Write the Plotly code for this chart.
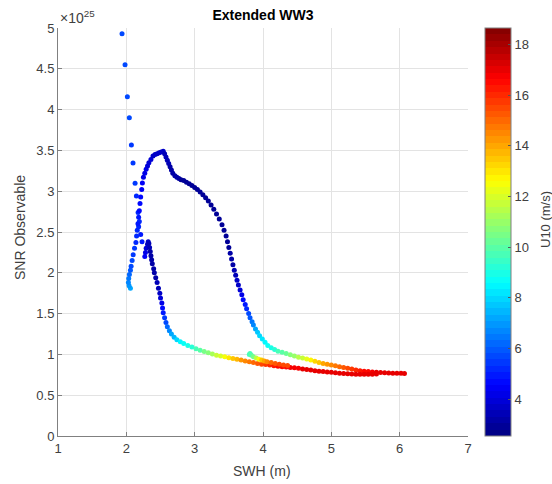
import plotly.graph_objects as go

# ---------------- data (SNR in units of 1e25) ----------------
# isolated dots falling from top
fall_swh = [1.937, 1.981, 2.015, 2.044, 2.074, 2.098, 2.128, 2.147, 2.172, 2.19, 2.18, 2.21, 2.23]
fall_snr = [4.93, 4.55, 4.157, 3.90, 3.567, 3.347, 3.097, 2.94, 2.74, 2.63, 2.565, 2.47, 2.38]
fall_u10 = [5.6, 5.6, 5.6, 5.6, 5.5, 5.5, 5.4, 5.3, 5.2, 5.1, 5.1, 5.0, 5.0]

# rising branch, big hump, long descending tail
hump_swh = [2.06, 2.04, 2.03, 2.035, 2.045, 2.06, 2.07, 2.085, 2.10, 2.12, 2.14, 2.15, 2.16, 2.17,
            2.18, 2.19, 2.20, 2.21, 2.225, 2.235, 2.25, 2.27, 2.29, 2.31, 2.33, 2.36, 2.39, 2.42,
            2.45, 2.48, 2.51, 2.54, 2.56, 2.58, 2.60, 2.62, 2.64, 2.66, 2.68, 2.71, 2.74, 2.77,
            2.80, 2.84, 2.88, 2.92, 2.96, 3.00, 3.04, 3.08, 3.12, 3.16, 3.20, 3.24, 3.28, 3.32,
            3.36, 3.40, 3.43, 3.46, 3.48, 3.50, 3.52, 3.54, 3.56, 3.58, 3.60, 3.62, 3.64, 3.665,
            3.69, 3.71, 3.74, 3.76, 3.79, 3.81, 3.84, 3.86, 3.89, 3.92, 3.95, 3.99, 4.03, 4.07,
            4.12, 4.17, 4.22, 4.28, 4.34, 4.40, 4.46, 4.52, 4.58, 4.64, 4.70, 4.76, 4.82, 4.88,
            4.94, 5.00, 5.06, 5.12, 5.18, 5.24, 5.30, 5.36, 5.42, 5.48, 5.54, 5.60, 5.66, 5.72,
            5.78, 5.84, 5.90, 5.96, 6.02, 6.07]
hump_snr = [1.81, 1.84, 1.88, 1.93, 1.98, 2.03, 2.08, 2.15, 2.22, 2.30, 2.37, 2.45, 2.52, 2.60,
            2.68, 2.76, 2.85, 2.93, 3.02, 3.10, 3.17, 3.22, 3.27, 3.31, 3.35, 3.39, 3.43, 3.45,
            3.46, 3.47, 3.48, 3.49, 3.46, 3.42, 3.38, 3.34, 3.30, 3.26, 3.22, 3.19, 3.17, 3.155,
            3.14, 3.13, 3.11, 3.09, 3.07, 3.045, 3.02, 2.99, 2.955, 2.92, 2.88, 2.83, 2.78, 2.72,
            2.66, 2.59, 2.52, 2.45, 2.38, 2.31, 2.24, 2.17, 2.10, 2.03, 1.97, 1.91, 1.85, 1.79,
            1.73, 1.67, 1.61, 1.56, 1.50, 1.45, 1.40, 1.36, 1.31, 1.27, 1.23, 1.19, 1.15, 1.11,
            1.08, 1.06, 1.04, 1.025, 1.01, 0.995, 0.98, 0.965, 0.955, 0.945, 0.93, 0.915, 0.90, 0.89,
            0.88, 0.87, 0.86, 0.85, 0.84, 0.83, 0.82, 0.81, 0.80, 0.795, 0.79, 0.785, 0.78, 0.777,
            0.774, 0.772, 0.77, 0.77, 0.768, 0.766]
hump_u10 = [7.2, 7.0, 6.8, 6.5, 6.2, 6.0, 5.8, 5.6, 5.5, 5.4, 5.3, 5.2, 5.1, 5.0,
            4.9, 4.8, 4.7, 4.6, 4.5, 4.4, 4.3, 4.2, 4.1, 4.0, 4.0, 3.9, 3.8, 3.8,
            3.7, 3.7, 3.6, 3.6, 3.5, 3.5, 3.4, 3.4, 3.3, 3.3, 3.2, 3.2, 3.1, 3.1,
            3.0, 3.0, 3.0, 3.0, 3.0, 3.0, 3.0, 3.0, 3.0, 3.0, 3.0, 3.0, 3.0, 3.0,
            3.0, 3.0, 3.0, 3.0, 3.0, 3.0, 3.1, 3.2, 3.3, 3.4, 3.5, 3.6, 3.8, 4.0,
            4.3, 4.6, 5.0, 5.3, 5.6, 6.0, 6.4, 6.8, 7.2, 7.6, 8.0, 8.3, 8.5, 8.7,
            9.0, 9.3, 9.6, 10.0, 10.3, 10.6, 11.0, 11.4, 11.8, 12.3, 12.8, 13.2, 13.6, 14.0,
            14.3, 14.6, 14.8, 15.0, 15.3, 15.5, 15.8, 16.0, 16.2, 16.4, 16.6, 16.8, 17.0, 17.0,
            17.0, 17.0, 17.0, 17.0, 17.0, 17.0]

# small secondary hump and its lower tail
low_swh = [2.27, 2.28, 2.29, 2.31, 2.32, 2.33, 2.34, 2.35, 2.36, 2.37, 2.38, 2.40, 2.41, 2.43,
           2.45, 2.47, 2.49, 2.50, 2.52, 2.53, 2.54, 2.56, 2.58, 2.60, 2.63, 2.66, 2.70, 2.74,
           2.79, 2.84, 2.90, 2.96, 3.02, 3.08, 3.14, 3.20, 3.26, 3.32, 3.38, 3.44, 3.50, 3.56,
           3.62, 3.68, 3.74, 3.80, 3.86, 3.92, 3.98, 4.04, 4.10, 4.16, 4.22, 4.28, 4.34, 4.40,
           4.46, 4.52, 4.58, 4.64, 4.70, 4.76, 4.82, 4.88, 4.94, 5.00, 5.06, 5.12, 5.18, 5.24,
           5.30, 5.36, 5.42, 5.48, 5.54, 5.60, 5.66]
low_snr = [2.20, 2.25, 2.30, 2.35, 2.38, 2.36, 2.31, 2.26, 2.21, 2.16, 2.11, 2.05, 2.00, 1.94,
           1.88, 1.81, 1.75, 1.69, 1.63, 1.57, 1.51, 1.45, 1.39, 1.34, 1.29, 1.25, 1.21, 1.18,
           1.155, 1.135, 1.11, 1.09, 1.07, 1.05, 1.035, 1.02, 1.005, 0.99, 0.98, 0.97, 0.96, 0.95,
           0.94, 0.93, 0.92, 0.91, 0.90, 0.89, 0.88, 0.875, 0.87, 0.86, 0.855, 0.85, 0.845, 0.84,
           0.835, 0.83, 0.82, 0.815, 0.81, 0.80, 0.795, 0.79, 0.785, 0.78, 0.775, 0.77, 0.765, 0.762,
           0.76, 0.758, 0.757, 0.756, 0.756, 0.758, 0.76]
low_u10 = [4.5, 4.3, 4.0, 3.8, 3.6, 3.5, 3.4, 3.3, 3.2, 3.2, 3.2, 3.2, 3.2, 3.3,
           3.4, 3.5, 3.7, 4.0, 4.3, 4.6, 5.0, 5.4, 5.8, 6.2, 6.7, 7.1, 7.5, 8.0,
           8.4, 8.7, 9.0, 9.3, 9.6, 10.0, 10.4, 10.8, 11.2, 11.7, 12.1, 12.5, 13.0, 13.4,
           13.8, 14.2, 14.5, 14.8, 15.0, 15.3, 15.5, 15.8, 16.0, 16.2, 16.4, 16.5, 16.6, 16.7,
           16.8, 16.8, 16.9, 17.0, 17.0, 17.0, 17.0, 17.0, 17.0, 17.0, 17.0, 17.0, 17.0, 17.0,
           17.0, 17.0, 17.0, 17.0, 17.0, 17.0, 17.0]

# short hook near SWH 3.8
hook_swh = [3.80, 3.81, 3.83, 3.86, 3.90, 3.94, 3.98, 4.02, 4.06, 4.12, 4.18, 4.24, 4.30, 4.36]
hook_snr = [1.00, 1.01, 0.99, 0.97, 0.955, 0.94, 0.93, 0.92, 0.91, 0.90, 0.89, 0.88, 0.87, 0.865]
hook_u10 = [9.8, 9.6, 10.0, 10.5, 11.5, 12.5, 13.5, 14.0, 14.5, 15.0, 15.2, 15.4, 15.5, 15.5]

x_ticks = [1, 2, 3, 4, 5, 6, 7]
y_ticks = [0, 0.5, 1, 1.5, 2, 2.5, 3, 3.5, 4, 4.5, 5]
y_ticklabels = ["0", "0.5", "1", "1.5", "2", "2.5", "3", "3.5", "4", "4.5", "5"]
cbar_ticks = [4, 6, 8, 10, 12, 14, 16, 18]
u10_min, u10_max = 2.55, 18.65

# ---------------- MATLAB-like jet colormap (64 bands) ----------------
def jet(t):
    def ch(v):
        return max(0.0, min(1.0, v))
    r = ch(1.5 - abs(4 * t - 3))
    g = ch(1.5 - abs(4 * t - 2))
    b = ch(1.5 - abs(4 * t - 1))
    return "rgb(%d,%d,%d)" % (round(r * 255), round(g * 255), round(b * 255))

n = 64
jet_scale = []
for i in range(n):
    c = jet((i + 0.5) / n)
    jet_scale.append([i / n, c])
    jet_scale.append([(i + 1) / n, c])

xs = fall_swh + hump_swh + low_swh + hook_swh
ys = fall_snr + hump_snr + low_snr + hook_snr
cs = fall_u10 + hump_u10 + low_u10 + hook_u10

font_family = "Liberation Sans, Arial, sans-serif"
tick_color = "#404040"

W, H = 552, 484
L, R, T, B = 58, 84, 28, 48
pw = W - L - R
ph = H - T - B

def px_x(p):
    return (p - L) / pw

def px_y(p):
    return (H - B - p) / ph

fig = go.Figure()
fig.add_trace(go.Scatter(
    x=xs, y=ys, mode="markers",
    marker=dict(size=5, color=cs, colorscale=jet_scale, cmin=u10_min, cmax=u10_max,
                line=dict(width=0),
                colorbar=dict(
                    x=px_x(485), xanchor="left", y=0.5, yanchor="middle", len=1.0, lenmode="fraction",
                    thickness=26, thicknessmode="pixels",
                    tickvals=cbar_ticks, ticks="inside", ticklen=3, tickcolor="#555555",
                    tickfont=dict(size=13, color=tick_color),
                    outlinecolor="#808080", outlinewidth=1, xpad=0, ypad=0,
                )),
    showlegend=False, hoverinfo="x+y",
))

fig.update_layout(
    width=W, height=H,
    margin=dict(l=L, r=R, t=T, b=B, autoexpand=False),
    paper_bgcolor="white", plot_bgcolor="white",
    font=dict(family=font_family, size=13, color=tick_color),
    title=dict(text="<b>Extended WW3</b>", x=263 / W, xanchor="center",
               y=1 - 15 / H, yanchor="middle", font=dict(size=14, color="#000000")),
)
fig.update_xaxes(
    range=[1, 7], tickvals=x_ticks, showgrid=True, gridcolor="#e3e3e3", gridwidth=1,
    showline=True, linecolor="#808080", linewidth=1, ticks="inside", ticklen=4,
    tickcolor="#808080", zeroline=False, tickfont=dict(size=13, color=tick_color),
    automargin=False,
)
fig.update_yaxes(
    range=[0, 5], tickvals=y_ticks, ticktext=y_ticklabels, showgrid=True, gridcolor="#e3e3e3",
    gridwidth=1, showline=True, linecolor="#808080", linewidth=1, ticks="inside", ticklen=4,
    tickcolor="#808080", zeroline=False, tickfont=dict(size=13, color=tick_color),
    automargin=False,
)
# axis titles and colorbar title
fig.add_annotation(text="SWH (m)", xref="paper", yref="paper", x=px_x(262), y=px_y(471),
                   xanchor="center", yanchor="middle", showarrow=False,
                   font=dict(size=14, color=tick_color))
fig.add_annotation(text="SNR Observable", xref="paper", yref="paper", x=px_x(20), y=px_y(228),
                   xanchor="center", yanchor="middle", showarrow=False, textangle=-90,
                   font=dict(size=14, color=tick_color))
fig.add_annotation(text="U10 (m/s)", xref="paper", yref="paper", x=px_x(545), y=px_y(220),
                   xanchor="center", yanchor="middle", showarrow=False, textangle=-90,
                   font=dict(size=13, color=tick_color))
fig.add_annotation(text="\u00d710<sup>25</sup>", xref="paper", yref="paper", x=0, y=1,
                   xanchor="left", yanchor="bottom", showarrow=False,
                   font=dict(size=14, color=tick_color))

fig.write_html("out.html", config={"displayModeBar": False},
               post_script="document.body.style.margin='0px';")
